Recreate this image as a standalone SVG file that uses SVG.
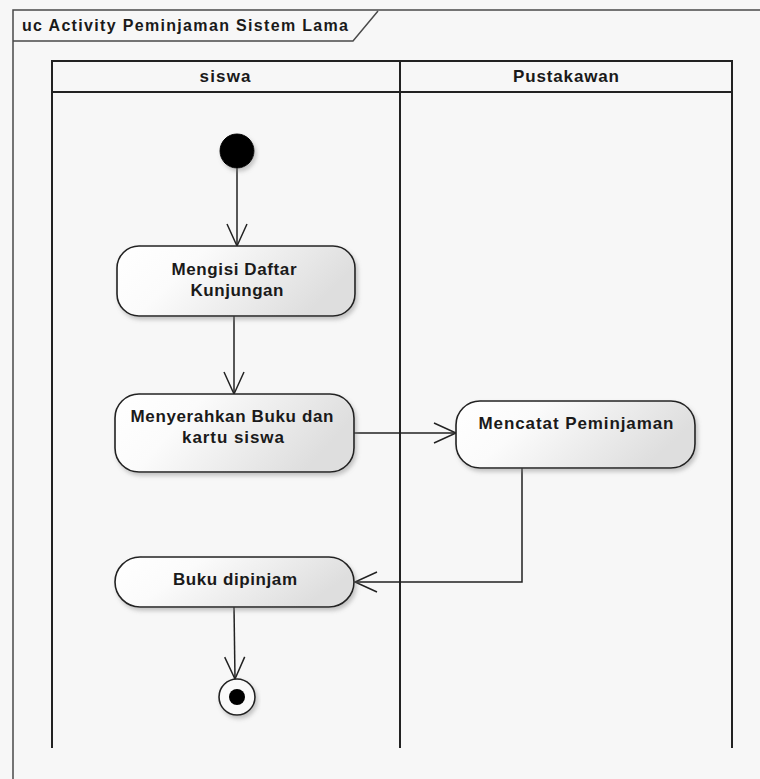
<svg xmlns="http://www.w3.org/2000/svg" width="760" height="779" viewBox="0 0 760 779">
  <style>
    .frame { fill: none; stroke: #4a4a4a; stroke-width: 1.5; }
    .lane { fill: none; stroke: #222; stroke-width: 2; }
    .act { fill: url(#actFill); stroke: #222; stroke-width: 1.6; filter: url(#shadow); }
    .lbl { font-family: "Liberation Sans", Arial, sans-serif; font-weight: bold; font-size: 17px; fill: #1a1a1a; text-anchor: middle; }
    .title { font-family: "Liberation Sans", Arial, sans-serif; font-weight: bold; font-size: 16px; fill: #1a1a1a; }
    .flow { fill: none; stroke: #222; stroke-width: 1.5; }
  </style>
  <defs>
    <linearGradient id="actFill" x1="0" y1="0" x2="1" y2="0.3">
      <stop offset="0" stop-color="#ffffff"/>
      <stop offset="0.35" stop-color="#fbfbfb"/>
      <stop offset="1" stop-color="#dedede"/>
    </linearGradient>
    <filter id="shadow" x="-10%" y="-10%" width="125%" height="140%">
      <feDropShadow dx="2" dy="3" stdDeviation="2" flood-color="#808080" flood-opacity="0.45"/>
    </filter>
    <marker id="open" markerUnits="userSpaceOnUse" markerWidth="30" markerHeight="30" viewBox="-26 -13 30 26" refX="0" refY="0" orient="auto">
      <path d="M-22 -10 L0 0 L-22 10" fill="none" stroke="#222" stroke-width="1.5"/>
    </marker>
  </defs>

  <!-- background -->
  <rect x="0" y="0" width="760" height="779" fill="#f7f7f7"/>

  <!-- diagram frame with name tab -->
  <g id="frame">
    <path class="frame" d="M13 779 L13 10 L760 10"/>
    <path class="frame" d="M13 41 L353 41 L378 11"/>
    <text class="title" x="22" y="31" textLength="326" lengthAdjust="spacing">uc Activity Peminjaman Sistem Lama</text>
  </g>

  <!-- swimlanes -->
  <g id="lanes">
    <path class="lane" d="M52 748 L52 61 L732 61 L732 748"/>
    <path class="lane" d="M52 92 L732 92"/>
    <path class="lane" d="M400 61 L400 748"/>
    <text class="lbl" x="225" y="82" textLength="51" lengthAdjust="spacing">siswa</text>
    <text class="lbl" x="566" y="82" textLength="106" lengthAdjust="spacing">Pustakawan</text>
  </g>

  <!-- control flows -->
  <g id="connectors">
    <path class="flow" d="M237 168 L237 246" marker-end="url(#open)"/>
    <path class="flow" d="M234 316 L234 394" marker-end="url(#open)"/>
    <path class="flow" d="M354 433 L456 433" marker-end="url(#open)"/>
    <path class="flow" d="M522 468 L522 582 L355 582" marker-end="url(#open)"/>
    <path class="flow" d="M234 607 L235 679" marker-end="url(#open)"/>
  </g>

  <!-- initial node -->
  <g id="start">
    <circle cx="237" cy="151" r="17" fill="#000" stroke="#000" stroke-width="1" filter="url(#shadow)"/>
  </g>

  <g id="mengisi">
    <rect class="act" x="117" y="246" width="238" height="70" rx="22" ry="22"/>
    <text class="lbl" x="234" y="275" textLength="125" lengthAdjust="spacing">Mengisi Daftar</text>
    <text class="lbl" x="237" y="296" textLength="93" lengthAdjust="spacing">Kunjungan</text>
  </g>

  <g id="menyerahkan">
    <rect class="act" x="115" y="394" width="239" height="78" rx="24" ry="24"/>
    <text class="lbl" x="232" y="422" textLength="203" lengthAdjust="spacing">Menyerahkan Buku dan</text>
    <text class="lbl" x="233" y="443" textLength="102" lengthAdjust="spacing">kartu siswa</text>
  </g>

  <g id="mencatat">
    <rect class="act" x="456" y="401" width="239" height="67" rx="24" ry="24"/>
    <text class="lbl" x="576" y="429" textLength="195" lengthAdjust="spacing">Mencatat Peminjaman</text>
  </g>

  <g id="dipinjam">
    <rect class="act" x="115" y="557" width="239" height="50" rx="25" ry="25"/>
    <text class="lbl" x="235" y="585" textLength="124" lengthAdjust="spacing">Buku dipinjam</text>
  </g>

  <!-- final node -->
  <g id="end">
    <circle cx="237" cy="697" r="18" fill="#fafafa" stroke="#222" stroke-width="1.6" filter="url(#shadow)"/>
    <circle cx="237" cy="697" r="8" fill="#000"/>
  </g>
</svg>
